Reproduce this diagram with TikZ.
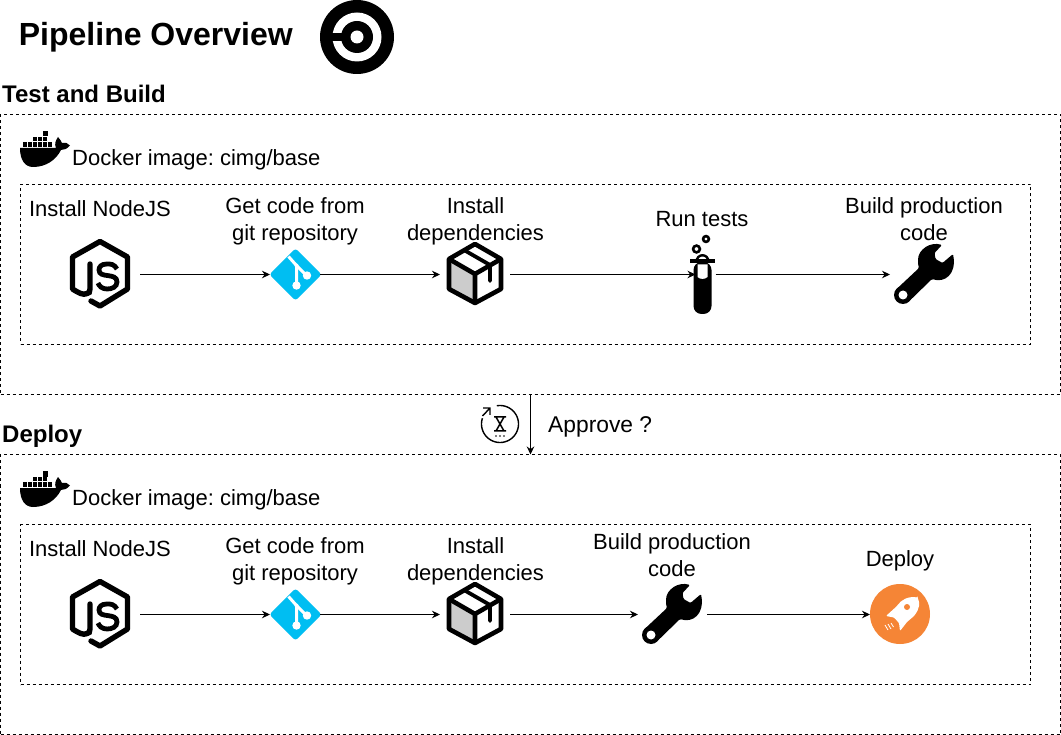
\documentclass[tikz,border=0pt]{standalone}
\usepackage{fontspec}
\setmainfont{Liberation Sans}
\frenchspacing
\usetikzlibrary{arrows.meta}
\definecolor{gitblue}{HTML}{00BEF2}
\definecolor{rocketorange}{HTML}{F58536}
\definecolor{boxgray}{HTML}{CCCCCC}
\tikzset{
  x=1pt,y=-1pt,
  box/.style={draw,line width=1pt,dash pattern=on 3pt off 3pt,inner sep=0pt,outer sep=0pt,minimum width=#1},
  lbl/.style={align=center,font=\fontsize{22}{27}\selectfont,inner sep=0pt},
  lefttext/.style={anchor=base west,font=\fontsize{22}{27}\selectfont,inner sep=0pt},
  head/.style={anchor=base west,font=\fontsize{24}{28}\selectfont\bfseries,inner sep=0pt},
  conn/.style={draw,line width=1pt,-{Stealth[length=8pt,width=7.5pt]}},
  slot/.style={inner sep=0pt,outer sep=0pt,minimum height=60pt,minimum width=#1},
  jsicon/.pic={
    \draw[line width=5.4pt,line join=round,line cap=round]
      (-13,19.5) .. controls (-17,21.5) and (-21,19) .. (-27.5,15) -- (-27.5,-17) -- (0,-32.5) -- (27.5,-17) -- (27.5,15) -- (0,32) -- (-9,27);
    \draw[line width=5.4pt,line cap=round] (-10,-10) -- (-10,15) .. controls (-10,18) and (-11,19.5) .. (-13,19.5);
    \draw[line width=4.8pt,line cap=butt]
      (17,-5) .. controls (14,-10) and (11,-10) .. (7,-10) .. controls (1,-10) and (-1,-7) .. (-1,-4)
      .. controls (-1,5) and (17,-2) .. (17,8) .. controls (17,13) and (12,15) .. (7,15) .. controls (2,15) and (-1,12) .. (-2,9);
  },
  giticon/.pic={
    \fill[gitblue,rounded corners=3pt] (0,-26.2) -- (26.2,0) -- (0,26.2) -- (-26.2,0) -- cycle;
    \draw[white,line width=3pt] (-7,-18) -- (1,-9) -- (1,11);
    \draw[white,line width=3pt] (1,-9) -- (11,1);
    \fill[white] (1,11) circle (4.2) (11.5,1) circle (4.2) (1,-9) circle (2);
  },
  pkgicon/.pic={
    \fill[boxgray] (-26,-15) -- (0,0) -- (0,29) -- (-26,15) -- cycle;
    \draw[line width=4.6pt,line join=round] (0,-30) -- (26,-15) -- (26,15) -- (0,29) -- (-26,15) -- (-26,-15) -- cycle;
    \draw[line width=4.6pt,line join=round] (-26,-15) -- (0,0) -- (26,-15) (0,0) -- (0,29);
    \draw[line width=3.8pt,line join=round,line cap=round] (-11,-24) -- (15,-9) -- (15,7);
  },
  tubeicon/.pic={
    \draw[line width=2.6pt] (-6,-25) circle (3.4) (3.5,-35) circle (2.9);
    \draw[line width=2.4pt] (-6,-12) .. controls (-6,-21) and (6,-21) .. (6,-12);
    \fill (-12.5,-14.5) rectangle (12.5,-10.5);
    \fill[rounded corners=8pt] (-9,-12) -- (9,-12) -- (9,40) -- (-9,40) -- cycle;
    \fill[white] (-5,-9.5) -- (5,-9.5) -- (5,3) .. controls (3,5.5) and (-3,5.5) .. (-5,3) -- cycle;
  },
  wrenchicon/.pic={
    \fill[rounded corners=1.2pt] (18,-29) .. controls (7,-32.5) and (-6,-25) .. (-6,-13)
      .. controls (-6,-10) and (-5.5,-8) .. (-5,-6) -- (-27.4,15) -- (-15,27.4) -- (8,5)
      .. controls (20,9) and (33,1) .. (29,-20) -- (18.5,-11) -- (11.5,-15) -- (10.5,-21) -- cycle;
    \fill (-21,21) circle (9);
    \fill[white] (-21,21) circle (4.5);
  },
  rocketicon/.pic={
    \fill[rocketorange] (0,0) circle (30);
    \fill[white,rounded corners=1pt] (17.5,-16.5) .. controls (8,-18) and (1,-14) .. (-3,-8)
      -- (-14,2) -- (-6,3.5) -- (-1,9) -- (0,17) -- (7,8) -- (14,2) .. controls (20,-6) and (20,-11) .. (17.5,-16.5) -- cycle;
    \fill[rocketorange] (7,-7) circle (3);
    \draw[white,line width=0.8pt] (-15,11) -- (-12,16) (-12,10) -- (-9,15) (-9,9) -- (-6.5,13);
  },
  whaleicon/.pic={
    \fill (0,17) -- (36,17) .. controls (34,13) and (36,9) .. (38,6) .. controls (40,8) and (41,10) .. (42,12)
      .. controls (45,11) and (48,12) .. (50,14.5) .. controls (47,18) and (44,19) .. (41,19)
      .. controls (36,29) and (26,36) .. (13,36) .. controls (5,36) and (0,29) .. (0,17) -- cycle;
    \foreach \bx in {3,8,13,18,23,28} \fill (\bx,11) rectangle +(4.3,4.8);
    \foreach \bx in {13,18,23} \fill (\bx,6) rectangle +(4.3,4.3);
    \fill (23,0) rectangle +(4.8,5.5);
  },
  ciicon/.pic={
    \fill (0,0) circle (37);
    \fill[white] (0,0) circle (24.5);
    \fill (0,0) circle (16);
    \fill (-26,-4) rectangle (-8,4.5);
    \fill[white] (0,0) circle (6.5);
  },
  waiticon/.pic={
    \draw[line width=1.4pt] plot[smooth,domain=-100:198,samples=60] ({18.5*cos(\x)},{18.5*sin(\x)});
    \draw[line width=1.4pt] (-17.5,-8) -- (-10,-16) (-17,-16) -- (-10,-16) -- (-10,-9);
    \draw[line width=1.5pt] (-6,-7) -- (6,-7) (-6,7) -- (6,7) (-4,-7) -- (4,7) (4,-7) -- (-4,7);
    \fill (-4,12) circle (0.9) (0,12) circle (0.9) (4,12) circle (0.9);
  },
}
\begin{document}
\begin{tikzpicture}
\useasboundingbox (0,0) rectangle (1061,735);
\fill[white] (0,0) rectangle (1061,735);

\node[head,font=\fontsize{32}{38}\selectfont\bfseries] (title) at (18.7,46) {Pipeline Overview};
\pic at (357,37) {ciicon};
\node[head] (h1) at (2,103) {Test and Build};
\node[head] (h2) at (2,442.5) {Deploy};

% containers
\node[box=1060pt,minimum height=280pt] (job1) at (530.5,254.5) {};
\node[box=1010pt,minimum height=160pt] (steps1) at (525.5,264.5) {};
\node[box=1060pt,minimum height=280pt] (job2) at (530.5,594.5) {};
\node[box=1010pt,minimum height=160pt] (steps2) at (525.5,604.5) {};

% docker
\pic at (20,131) {whaleicon};
\node[lefttext] (dock1) at (72,165.5) {Docker image: cimg/base};
\pic at (20,471) {whaleicon};
\node[lefttext] (dock2) at (72,505.5) {Docker image: cimg/base};

% first row
\node[slot=80pt] (js1) at (100,274.5) {};
\node[slot=50pt] (git1) at (295,274.5) {};
\node[slot=70pt] (pkg1) at (475,274.5) {};
\node[slot=20pt] (tube1) at (705.5,274.5) {};
\node[slot=68pt] (wr1) at (924,274.5) {};
\pic at (100,274) {jsicon};
\pic at (295.5,274.5) {giticon};
\pic at (475,274) {pkgicon};
\pic at (702.5,274) {tubeicon};
\pic at (924,274) {wrenchicon};
\draw[conn] (js1) -- (git1);
\draw[conn] (git1) -- (pkg1);
\draw[conn] (pkg1) -- (tube1);
\draw[conn] (tube1) -- (wr1);
\node[lbl] (t11) at (100,209) {Install NodeJS};
\node[lbl] (t12) at (295,221) {Get code from\\git repository};
\node[lbl] (t13) at (475.5,221) {Install\\dependencies};
\node[lbl] (t14) at (702,219) {Run tests};
\node[lbl] (t15) at (924,219) {Build production\\code};

% approval
\draw[conn] (job1) -- (job2);
\pic at (500,424) {waiticon};
\node[lefttext,font=\fontsize{22.8}{27}\selectfont] (appr) at (548,432) {Approve ?};

% second row
\node[slot=80pt] (js2) at (100,614.5) {};
\node[slot=50pt] (git2) at (295,614.5) {};
\node[slot=70pt] (pkg2) at (475,614.5) {};
\node[slot=69pt] (wr2) at (672.5,614.5) {};
\node[slot=60pt] (rocket) at (900,614.5) {};
\pic at (100,614) {jsicon};
\pic at (295.5,614.5) {giticon};
\pic at (475,614) {pkgicon};
\pic at (672,614) {wrenchicon};
\pic at (900,614) {rocketicon};
\draw[conn] (js2) -- (git2);
\draw[conn] (git2) -- (pkg2);
\draw[conn] (pkg2) -- (wr2);
\draw[conn] (wr2) -- (rocket);
\node[lbl] (t21) at (100,549) {Install NodeJS};
\node[lbl] (t22) at (295,561) {Get code from\\git repository};
\node[lbl] (t23) at (475.5,561) {Install\\dependencies};
\node[lbl] (t24) at (672,555) {Build production\\code};
\node[lbl] (t25) at (900,560.5) {Deploy};
\end{tikzpicture}
\end{document}
